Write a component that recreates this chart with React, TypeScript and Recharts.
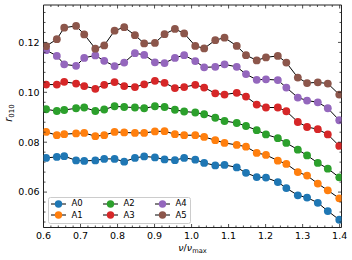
import { Legend, Line, LineChart, XAxis, YAxis } from 'recharts'

// nu / nu_max of each point, shared by all models
const NU = [
  0.607, 0.636, 0.656, 0.688, 0.71, 0.74, 0.764, 0.792, 0.818, 0.847,
  0.872, 0.901, 0.927, 0.955, 0.98, 1.01, 1.034, 1.064, 1.089, 1.122,
  1.147, 1.176, 1.201, 1.233, 1.256, 1.287, 1.312, 1.341, 1.368, 1.399,
]

const A0 = [
  0.0737, 0.0741, 0.0744, 0.0727, 0.0725, 0.0727, 0.0733, 0.0733, 0.0722, 0.0737,
  0.0743, 0.0739, 0.0731, 0.0728, 0.0737, 0.073, 0.0717, 0.0707, 0.0709, 0.0699,
  0.0677, 0.066, 0.0658, 0.064, 0.0616, 0.0587, 0.0578, 0.0557, 0.0524, 0.0489,
]
const A1 = [
  0.0841, 0.0828, 0.0832, 0.0835, 0.0837, 0.0824, 0.0828, 0.0841, 0.0839, 0.0837,
  0.0837, 0.0843, 0.0844, 0.0832, 0.0828, 0.0828, 0.0821, 0.0808, 0.0797, 0.0789,
  0.0782, 0.0757, 0.0749, 0.0726, 0.0713, 0.068, 0.0666, 0.0634, 0.0607, 0.0575,
]
const A2 = [
  0.0932, 0.0925, 0.0929, 0.0936, 0.0939, 0.0925, 0.0931, 0.0944, 0.0941, 0.0939,
  0.0936, 0.0944, 0.0941, 0.093, 0.0923, 0.0919, 0.0912, 0.0898, 0.0885, 0.0877,
  0.0865, 0.0848, 0.0831, 0.0816, 0.0797, 0.077, 0.0747, 0.0717, 0.0694, 0.0659,
]
const A3 = [
  0.1031, 0.1031, 0.1042, 0.1035, 0.1025, 0.1014, 0.103, 0.1041, 0.1025, 0.1021,
  0.1032, 0.1046, 0.1038, 0.1017, 0.1021, 0.103, 0.1019, 0.0996, 0.0991, 0.0998,
  0.0983, 0.0951, 0.0939, 0.0939, 0.0924, 0.0881, 0.0861, 0.0852, 0.0831, 0.0785,
]
const A4 = [
  0.1169, 0.1146, 0.1112, 0.1106, 0.1138, 0.1148, 0.1126, 0.1105, 0.1119, 0.1157,
  0.115, 0.112, 0.1117, 0.1138, 0.1149, 0.1125, 0.11, 0.1102, 0.1112, 0.1102,
  0.1073, 0.105, 0.1052, 0.1049, 0.1019, 0.0979, 0.0967, 0.096, 0.0936, 0.0888,
]
const A5 = [
  0.1185, 0.1213, 0.1259, 0.1266, 0.1232, 0.1175, 0.1188, 0.1247, 0.1261, 0.1229,
  0.1196, 0.1198, 0.1233, 0.1254, 0.1236, 0.1186, 0.1176, 0.1209, 0.1219, 0.1186,
  0.1149, 0.1128, 0.114, 0.1146, 0.1119, 0.1059, 0.1037, 0.104, 0.1035, 0.0991,
]

const NAMES = ['A0', 'A1', 'A2', 'A3', 'A4', 'A5']
const VALUES = [A0, A1, A2, A3, A4, A5]
const COLORS = ['#1f77b4', '#ff7f0e', '#2ca02c', '#d62728', '#9467bd', '#8c564b']

const X_DOMAIN = [0.6, 1.405]
const Y_DOMAIN = [0.0458, 0.135]
// major + minor ticks; majors every 0.1 / 0.02
const X_TICKS: number[] = []
for (let k = 30; k <= 70; k++) X_TICKS.push(k * 0.02)
const Y_TICKS: number[] = []
for (let k = 12; k <= 33; k++) Y_TICKS.push(k * 0.004)

const data = NU.map((nu, i) => {
  const row: Record<string, number> = { nu }
  NAMES.forEach((n, s) => { row[n] = VALUES[s][i] })
  return row
})

const FONT = '"DejaVu Sans", sans-serif'
const INK = '#222'
const MAJOR = 3.5
const MINOR = 2

const onStep = (v: number, step: number) => Math.abs(v / step - Math.round(v / step)) < 1e-6

const BottomTick = (p: any) => {
  const v = p.payload.value
  const major = onStep(v, 0.1)
  return (
    <g>
      <line x1={p.x} x2={p.x} y1={p.y} y2={p.y - (major ? MAJOR : MINOR)} stroke={INK} strokeWidth={0.8} />
      {major && (
        <text x={p.x} y={p.y + 11.8} textAnchor="middle" fontSize={9.5} fontFamily={FONT} fill="#000">
          {v.toFixed(1)}
        </text>
      )}
    </g>
  )
}
const TopTick = (p: any) => {
  const major = onStep(p.payload.value, 0.1)
  return <line x1={p.x} x2={p.x} y1={p.y} y2={p.y + (major ? MAJOR : MINOR)} stroke={INK} strokeWidth={0.8} />
}
const LeftTick = (p: any) => {
  const v = p.payload.value
  const major = onStep(v, 0.02)
  return (
    <g>
      <line x1={p.x} x2={p.x + (major ? MAJOR : MINOR)} y1={p.y} y2={p.y} stroke={INK} strokeWidth={0.8} />
      {major && (
        <text x={p.x - 4} y={p.y + 3.4} textAnchor="end" fontSize={9.5} fontFamily={FONT} fill="#000">
          {v.toFixed(2)}
        </text>
      )}
    </g>
  )
}
const RightTick = (p: any) => {
  const major = onStep(p.payload.value, 0.02)
  return <line x1={p.x} x2={p.x - (major ? MAJOR : MINOR)} y1={p.y} y2={p.y} stroke={INK} strokeWidth={0.8} />
}

const XLabel = () => (
  <text x={192.5} y={251} textAnchor="middle" fontSize={9.5} fontFamily={FONT} fill="#000">
    <tspan fontStyle="italic">ν</tspan>
    <tspan>/</tspan>
    <tspan fontStyle="italic">ν</tspan>
    <tspan fontSize={6.7} dy={2.2}>max</tspan>
  </text>
)

const YLabel = () => (
  <text transform="translate(12,113) rotate(-90)" textAnchor="middle" fontSize={10} fontFamily={FONT} fill="#000">
    <tspan fontStyle="italic">r</tspan>
    <tspan fontSize={7} dy={2.3}>010</tspan>
  </text>
)

const LegendBox = () => (
  <div
    style={{
      position: 'relative', width: 143, height: 27, boxSizing: 'border-box',
      border: '1px solid #cccccc', borderRadius: 2.5, background: 'rgba(255,255,255,0.8)',
      fontFamily: FONT, fontSize: 8.5, color: '#000', lineHeight: '11px',
    }}
  >
    {NAMES.map((name, i) => {
      const col = Math.floor(i / 2)
      const row = i % 2
      return (
        <div
          key={name}
          style={{ position: 'absolute', left: 2.2 + col * 52, top: 0.8 + row * 11.5, height: 11, display: 'flex', alignItems: 'center' }}
        >
          <svg width={15} height={8} style={{ display: 'block' }}>
            <line x1={0} x2={15} y1={4} y2={4} stroke="#000" strokeWidth={1} />
            <circle cx={7.5} cy={4} r={3.7} fill={COLORS[i]} />
          </svg>
          <span style={{ marginLeft: 5 }}>{name}</span>
        </div>
      )
    })}
  </div>
)

export default function App() {
  return (
    <div style={{ position: 'absolute', left: 0, top: 0, width: 352, height: 260, background: '#fff' }}>
      <LineChart width={352} height={260} data={data} margin={{ top: 0, right: 0, left: 0, bottom: 0 }}>
        <XAxis
          xAxisId="main" dataKey="nu" type="number" domain={X_DOMAIN} allowDataOverflow
          ticks={X_TICKS} interval={0} tick={BottomTick} tickLine={false} tickSize={0} tickMargin={0}
          axisLine={{ stroke: INK, strokeWidth: 1 }} height={32.5} label={<XLabel />}
        />
        <XAxis
          xAxisId="top" dataKey="nu" orientation="top" type="number" domain={X_DOMAIN} allowDataOverflow
          ticks={X_TICKS} interval={0} tick={TopTick} tickLine={false} tickSize={0} tickMargin={0}
          axisLine={{ stroke: INK, strokeWidth: 1 }} height={5}
        />
        <YAxis
          yAxisId="main" type="number" domain={Y_DOMAIN} allowDataOverflow
          ticks={Y_TICKS} interval={0} tick={LeftTick} tickLine={false} tickSize={0} tickMargin={0}
          axisLine={{ stroke: INK, strokeWidth: 1 }} width={43.5} label={<YLabel />}
        />
        <YAxis
          yAxisId="right" orientation="right" type="number" domain={Y_DOMAIN} allowDataOverflow
          ticks={Y_TICKS} interval={0} tick={RightTick} tickLine={false} tickSize={0} tickMargin={0}
          axisLine={{ stroke: INK, strokeWidth: 1 }} width={10.5}
        />
        <Legend
          layout="horizontal" verticalAlign="middle" align="center"
          content={<LegendBox />}
          wrapperStyle={{ left: 48.3, top: 196.7, right: 'auto', bottom: 'auto', width: 143, height: 27 }}
        />
        {NAMES.map((name, i) => (
          <Line
            key={name}
            xAxisId="main"
            yAxisId="main"
            dataKey={name}
            stroke="#000"
            strokeWidth={1}
            dot={{ r: 3.9, fill: COLORS[i], stroke: 'none' }}
            activeDot={false}
            isAnimationActive={false}
          />
        ))}
      </LineChart>
    </div>
  )
}
